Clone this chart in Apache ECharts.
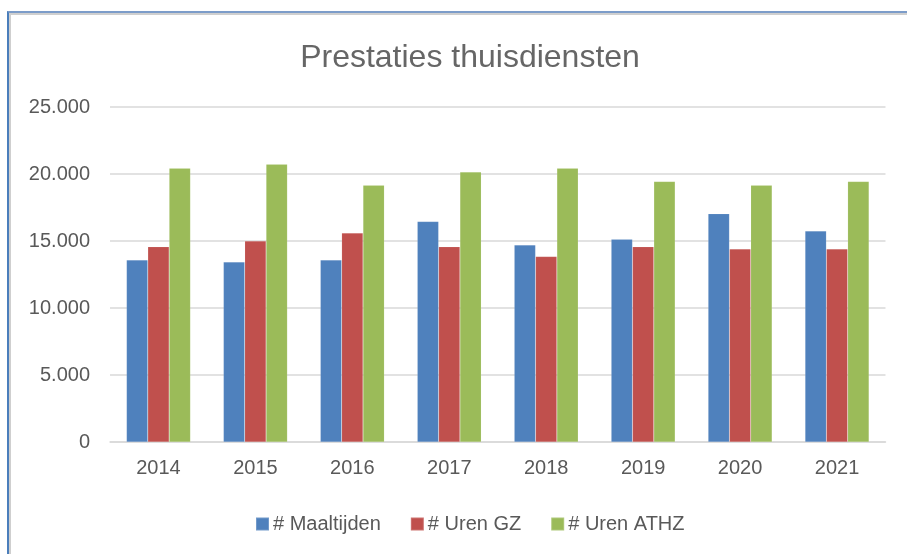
<!DOCTYPE html>
<html>
<head>
<meta charset="utf-8">
<script src="https://cdn.jsdelivr.net/npm/echarts@6/dist/echarts.min.js"></script>
<style>
  html, body { margin: 0; padding: 0; background: #fff; }
  #chart { width: 907px; height: 554px; position: absolute; left: 0; top: 0; }
  #frame {
    position: absolute; left: 7px; top: 11px; width: 940px; height: 600px;
    border-left: 2px solid #4a7ebb; border-top: 2px solid #7c9cc9;
    box-shadow: inset 2px 2px 0 #cfcfcf; pointer-events: none;
  }
</style>
</head>
<body>
<div id="chart"></div>
<div id="frame"></div>
<script>
  // data
  const years = ['2014', '2015', '2016', '2017', '2018', '2019', '2020', '2021']
  const maaltijden = [13580, 13430, 13580, 16450, 14700, 15130, 17030, 15740]
  const urenGZ = [14570, 15000, 15590, 14570, 13840, 14570, 14410, 14410]
  const urenATHZ = [20430, 20730, 19160, 20150, 20430, 19440, 19160, 19440]
  const seriesNames = ['# Maaltijden', '# Uren GZ', '# Uren ATHZ']
  const colors = ['#4f81bd', '#c0504d', '#9bbb59']

  const font = '"Liberation Sans", Arial, sans-serif'
  const textColor = '#595959'

  const fmt = (v) => String(v).replace(/\B(?=(\d{3})+(?!\d))/g, '.')

  const chart = echarts.init(document.getElementById('chart'))

  const mkSeries = (name, data, i) => ({
    name: name,
    type: 'bar',
    data: data,
    barGap: 0,
    barCategoryGap: '34%',
    itemStyle: {
      color: colors[i],
      borderColor: 'rgba(255,255,255,0.2)',
      borderWidth: 0.5
    }
  })

  chart.setOption({
    animation: false,
    textStyle: { fontFamily: font },
    title: {
      text: 'Prestaties thuisdiensten',
      left: 465,
      textAlign: 'center',
      top: 37,
      textStyle: { fontSize: 32, fontWeight: 'normal', color: '#666666', fontFamily: font }
    },
    legend: {
      data: seriesNames,
      left: 250,
      top: 509,
      itemWidth: 13,
      itemHeight: 13,
      itemGap: 29,
      icon: 'rect',
      textStyle: { fontSize: 20, color: textColor, fontFamily: font, padding: [0, 0, 0, -1] }
    },
    grid: { left: 110, right: 21.5, top: 107, bottom: 112, containLabel: false },
    xAxis: {
      type: 'category',
      data: years,
      axisLine: { lineStyle: { color: '#d9d9d9', width: 1.5 } },
      axisTick: { show: false },
      axisLabel: { fontSize: 20, color: textColor, margin: 16 }
    },
    yAxis: {
      type: 'value',
      min: 0,
      max: 25000,
      interval: 5000,
      axisLine: { show: false },
      axisTick: { show: false },
      splitLine: { lineStyle: { color: '#d9d9d9', width: 1.5 } },
      axisLabel: { fontSize: 20, color: textColor, margin: 20, formatter: fmt }
    },
    series: [
      mkSeries(seriesNames[0], maaltijden, 0),
      mkSeries(seriesNames[1], urenGZ, 1),
      mkSeries(seriesNames[2], urenATHZ, 2)
    ]
  })
</script>
</body>
</html>
